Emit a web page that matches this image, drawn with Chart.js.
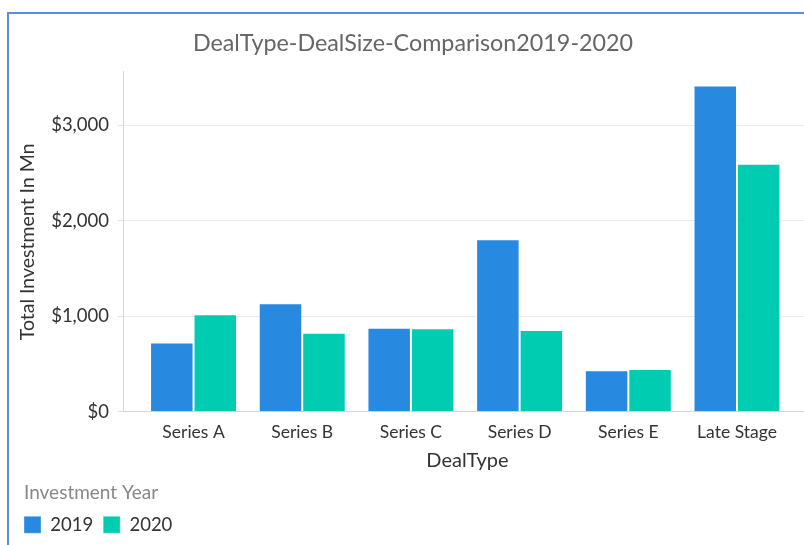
<!DOCTYPE html>
<html>
<head>
<meta charset="utf-8">
<script src="https://cdn.jsdelivr.net/npm/chart.js@4"></script>
<style>
  html, body { margin: 0; padding: 0; width: 804px; height: 545px; overflow: hidden; background: #fff; }
  #card { position: absolute; left: 7px; top: 12px; width: 900px; height: 600px; border-top: 2px solid #5b8ee0; border-left: 2px solid #5b8ee0; box-sizing: border-box; }
  #wrap { position: absolute; left: 9px; top: 14px; width: 812px; height: 531px; }
</style>
</head>
<body>
<div id="card"></div>
<div id="wrap"><canvas id="c"></canvas></div>
<script>
const categories = ['Series A', 'Series B', 'Series C', 'Series D', 'Series E', 'Late Stage'];
const seriesNames = ['2019', '2020'];
const values2019 = [725, 1135, 878, 1807, 435, 3418];
const values2020 = [1020, 826, 873, 855, 446, 2597];
const yTickValues = [0, 1000, 2000, 3000];

const FONT = 'Lato, "Open Sans", sans-serif';

const toPoints = vals => vals.map((v, i) => ({ x: i, y: v }));

// Indent the legend title so it lines up with the first legend box
const legendTitleIndent = {
  id: 'legendTitleIndent',
  afterUpdate(chart) {
    const lg = chart.legend;
    if (lg && !lg._indentPatched) {
      ['drawTitle', '_drawTitle'].forEach(name => {
        if (typeof lg[name] === 'function') {
          const orig = lg[name];
          lg[name] = function () {
            const c = this.ctx;
            c.save();
            c.translate(this.options.labels.padding, 0);
            orig.apply(this, arguments);
            c.restore();
          };
        }
      });
      lg._indentPatched = true;
    }
  }
};

new Chart(document.getElementById('c'), {
  type: 'bar',
  data: {
    datasets: [
      { label: seriesNames[0], data: toPoints(values2019), backgroundColor: '#2889e0', borderColor: 'rgba(255,255,255,0.35)', borderWidth: 1 },
      { label: seriesNames[1], data: toPoints(values2020), backgroundColor: '#00ccb1', borderColor: 'rgba(255,255,255,0.35)', borderWidth: 1 }
    ]
  },
  plugins: [legendTitleIndent],
  options: {
    responsive: true,
    maintainAspectRatio: false,
    animation: false,
    layout: { padding: { left: 5, right: 9, top: 0, bottom: 1 } },
    datasets: { bar: { categoryPercentage: 0.8, barPercentage: 1.0 } },
    plugins: {
      title: {
        display: true,
        text: 'DealType-DealSize-Comparison2019-2020',
        color: '#666',
        font: { family: FONT, size: 23.3, weight: 'normal' },
        padding: { top: 15, bottom: 15 }
      },
      legend: {
        position: 'bottom',
        align: 'start',
        title: {
          display: true,
          text: 'Investment Year',
          color: '#888',
          position: 'start',
          font: { family: FONT, size: 19, lineHeight: 1.15 },
          padding: { top: 11, bottom: 0 }
        },
        labels: {
          color: '#333',
          font: { family: FONT, size: 18.5 },
          boxWidth: 17,
          boxHeight: 17,
          padding: 10
        }
      },
      tooltip: { enabled: false }
    },
    scales: {
      x: {
        type: 'linear',
        offset: false,
        min: -0.649,
        max: categories.length - 1 + 0.69,
        afterBuildTicks: scale => { scale.ticks = categories.map((c, i) => ({ value: i })); },
        grid: { display: false, drawTicks: false },
        border: { display: true, color: '#d6d6d6', width: 1 },
        ticks: {
          autoSkip: false, maxRotation: 0, padding: 10,
          color: '#333', font: { family: FONT, size: 17.5 },
          callback: v => categories[v]
        },
        title: { display: true, text: 'DealType', color: '#333', font: { family: FONT, size: 20 }, padding: { top: -4, bottom: 0 } }
      },
      y: {
        min: 0,
        max: 3560,
        afterFit: scale => { scale.width = 109; },
        afterBuildTicks: scale => { scale.ticks = yTickValues.map(v => ({ value: v })); },
        grid: { color: '#ebebeb', tickLength: 5, tickColor: '#e0e0e0' },
        border: { display: true, color: '#d6d6d6', width: 1 },
        ticks: {
          padding: 9, color: '#333', font: { family: FONT, size: 18.5 },
          callback: v => '$' + v.toLocaleString('en-US')
        },
        title: { display: true, text: 'Total Investment In Mn', color: '#333', font: { family: FONT, size: 19.5 }, padding: { top: 2.3, bottom: 0 } }
      }
    }
  }
});
</script>
</body>
</html>
